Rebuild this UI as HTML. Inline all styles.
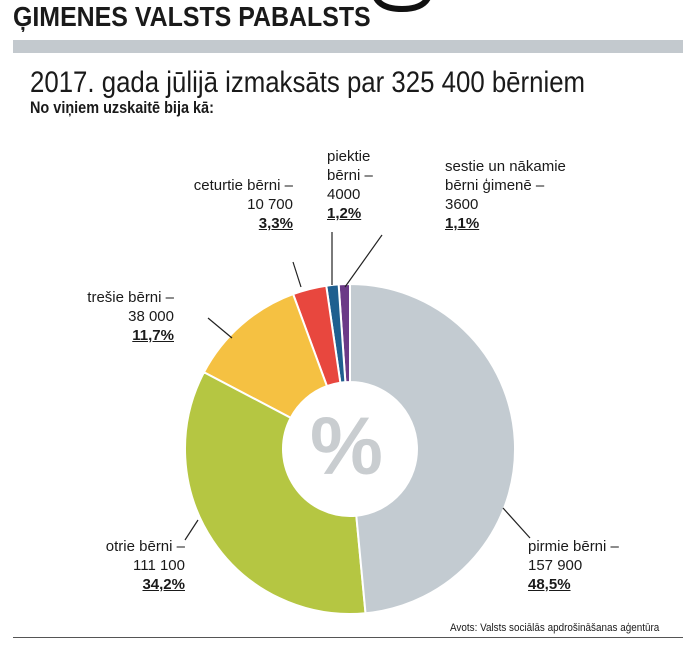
<!DOCTYPE html>
<html><head><meta charset="utf-8"><style>
body{margin:0;width:697px;height:650px;background:#fff;overflow:hidden;position:relative;font-family:"Liberation Sans",sans-serif;color:#1a1a1a}
.t{position:absolute;white-space:nowrap}
.lab{position:absolute;font-size:15px;line-height:19px;text-align:right}
.lab b{text-decoration:underline}
</style></head><body>
<svg width="697" height="40" style="position:absolute;left:0;top:0"><path d="M376,-2 Q382,9 402,9 Q422,9 428,-2" fill="none" stroke="#111" stroke-width="6"/></svg>
<div class="t" style="left:13px;top:1px;font-size:28px;font-weight:bold;transform:scaleX(0.89);transform-origin:left">ĢIMENES VALSTS PABALSTS</div>
<div style="position:absolute;left:13px;top:40px;width:670px;height:13px;background:#c3c9ce"></div>
<div class="t" style="left:30px;top:66px;font-size:30px;transform:scaleX(0.86);transform-origin:left">2017. gada jūlijā izmaksāts par 325 400 bērniem</div>
<div class="t" style="left:30px;top:98px;font-size:17px;font-weight:bold;transform:scaleX(0.85);transform-origin:left">No viņiem uzskaitē bija kā:</div>
<svg id="s" width="697" height="650" style="position:absolute;left:0;top:0">
<g stroke="#222" stroke-width="1.2">
<line x1="503" y1="508" x2="530" y2="538"/>
<line x1="198" y1="520" x2="185" y2="540"/>
<line x1="232" y1="338" x2="208" y2="318"/>
<line x1="301" y1="287" x2="293" y2="262"/>
<line x1="332" y1="285" x2="332" y2="232"/>
<line x1="345" y1="287" x2="382" y2="235"/>
</g>
</svg>
<div class="t" style="left:310px;top:400px;font-size:82px;font-weight:bold;color:#c9cdd0">%</div>
<div class="lab" style="left:528px;top:537px;text-align:left">pirmie bērni –<br>157 900<br><b style="margin-left:0">48,5%</b></div>
<div class="lab" style="right:512px;top:537px">otrie bērni –<br>111 100<br><b>34,2%</b></div>
<div class="lab" style="right:523px;top:288px">trešie bērni –<br>38 000<br><b>11,7%</b></div>
<div class="lab" style="right:404px;top:176px">ceturtie bērni –<br>10 700<br><b>3,3%</b></div>
<div class="lab" style="left:327px;top:147px;text-align:left">piektie<br>bērni –<br>4000<br><b>1,2%</b></div>
<div class="lab" style="left:445px;top:157px;text-align:left">sestie un nākamie<br>bērni ģimenē –<br>3600<br><b>1,1%</b></div>
<div class="t" style="left:450px;top:622px;font-size:11px;transform:scaleX(0.9);transform-origin:left">Avots: Valsts sociālās apdrošināšanas aģentūra</div>
<div style="position:absolute;left:13px;top:637px;width:670px;height:1px;background:#555"></div>
<script>
var s=document.getElementById('s'),cx=350,cy=449,R=165,r=67;
var d=[[48.5,'#c3cbd1'],[34.2,'#b5c642'],[11.7,'#f5c142'],[3.3,'#e8473e'],[1.2,'#1f5f8f'],[1.1,'#6b3a87']];
var a=0,ns='http://www.w3.org/2000/svg';
function p(ang,rad){var t=ang*Math.PI/180;return (cx+rad*Math.sin(t)).toFixed(2)+','+(cy-rad*Math.cos(t)).toFixed(2);}
d.forEach(function(x){var b=a+x[0]*3.6;var l=(b-a)>180?1:0;
var e=document.createElementNS(ns,'path');
e.setAttribute('d','M'+p(a,R)+'A'+R+','+R+' 0 '+l+' 1 '+p(b,R)+'L'+p(b,r)+'A'+r+','+r+' 0 '+l+' 0 '+p(a,r)+'Z');
e.setAttribute('fill',x[1]);e.setAttribute('stroke','#fff');e.setAttribute('stroke-width','2');
s.insertBefore(e,s.firstChild);a=b;});
</script>
</body></html>
